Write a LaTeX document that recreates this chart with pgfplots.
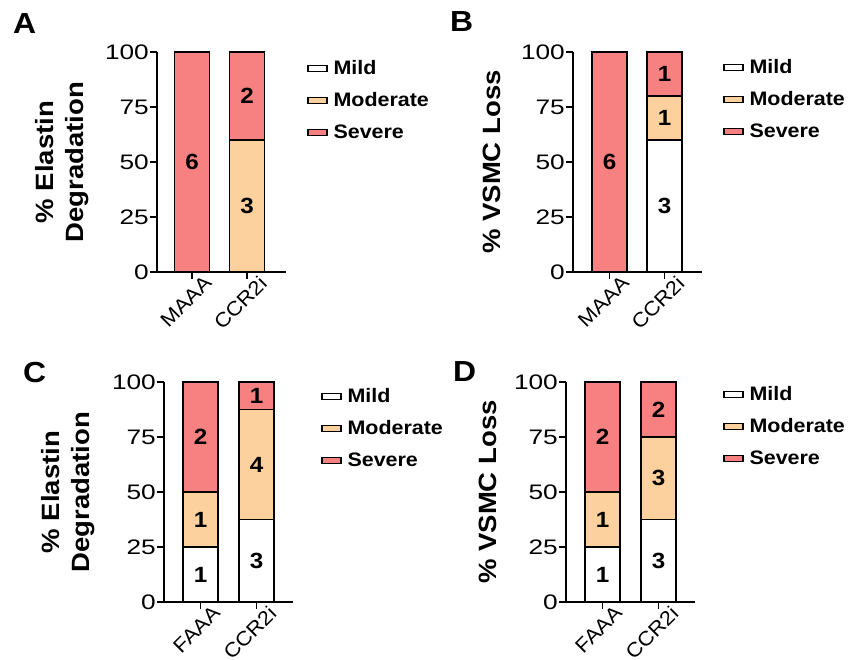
\documentclass[border=0pt]{standalone}
\usepackage{fontspec}
\setmainfont{Liberation Sans}[FakeStretch=1.1]
\newfontfamily\tickfont{Liberation Sans}[FakeStretch=1.25]
\usepackage{pgfplots}
\pgfplotsset{compat=1.18}
\definecolor{severe}{RGB}{247,128,128}
\definecolor{moderate}{RGB}{253,209,158}

\pgfplotsset{
  panel/.style={
    scale only axis, width=129pt, height=220pt,
    ybar stacked, bar width=35pt,
    ymin=0, ymax=100, ytick={0,25,50,75,100},
    xtick={0,1},
    axis lines=left, axis line style={-, line width=1.6pt},
    tick align=outside, major tick length=7pt,
    tick style={line width=1.6pt, black},
    /pgf/number format/assume math mode=true,
    yticklabel style={font=\tickfont\fontsize{21}{24}\selectfont, inner sep=1pt},
    xticklabel style={font=\fontsize{20}{24}\selectfont, xshift=11pt, yshift=6pt, rotate=45, anchor=north east, inner sep=1pt},
    ylabel style={font=\bfseries\fontsize{25}{30}\selectfont, align=center, anchor=center},
    legend style={draw=none, fill=none, anchor=north west,
      font=\bfseries\fontsize{19.5}{22}\selectfont,
      nodes={inner sep=1pt, text height=14pt, text depth=2pt}, row sep=14pt, column sep=5pt},
    legend cell align=left,
    legend image code/.code={\draw[#1, line width=1.3pt] (0pt,-3pt) rectangle (19pt,3pt);},
  },
  lab/.style={
    scale only axis, width=129pt, height=220pt,
    ymin=0, ymax=100, hide axis,
    nodes near coords, point meta=explicit symbolic,
    nodes near coords style={font=\bfseries\fontsize{22}{24}\selectfont, text=black, anchor=center},
  },
  mild/.style={fill=white, draw=black, line width=1.6pt},
  moder/.style={fill=moderate, draw=black, line width=1.6pt},
  sev/.style={fill=severe, draw=black, line width=1.6pt},
  counts/.style={draw=none, mark=none},
}

\begin{document}
\begin{tikzpicture}
\path[use as bounding box] (0pt,0pt) rectangle (854pt,660pt);

% A
\begin{axis}[panel, at={(157pt,388pt)}, xmin=-0.636, xmax=1.709,
  xticklabels={MAAA,CCR2i}, ylabel={\% Elastin\\Degradation},
  ylabel style={at={(axis description cs:-0.736,0.5)}},
  legend style={at={(1.14,0.977)}}]
\addplot[mild] coordinates {(0,0) (1,0)};
\addplot[moder] coordinates {(0,0) (1,60)};
\addplot[sev] coordinates {(0,100) (1,40)};
\legend{Mild,Moderate,Severe}
\end{axis}
\begin{axis}[lab, at={(157pt,388pt)}, xmin=-0.636, xmax=1.709]
\addplot[counts] coordinates {(0,50) [6] (1,30) [3] (1,80) [2]};
\end{axis}

% B
\begin{axis}[panel, at={(573pt,388pt)}, xmin=-0.664, xmax=1.681,
  xticklabels={MAAA,CCR2i}, ylabel={\% VSMC Loss},
  ylabel style={at={(axis description cs:-0.628,0.5)}},
  legend style={at={(1.14,0.982)}}]
\addplot[mild] coordinates {(0,0) (1,60)};
\addplot[moder] coordinates {(0,0) (1,20)};
\addplot[sev] coordinates {(0,100) (1,20)};
\legend{Mild,Moderate,Severe}
\end{axis}
\begin{axis}[lab, at={(573pt,388pt)}, xmin=-0.664, xmax=1.681]
\addplot[counts] coordinates {(0,50) [6] (1,30) [3] (1,70) [1] (1,90) [1]};
\end{axis}

% C
\begin{axis}[panel, at={(164pt,58pt)}, xmin=-0.652, xmax=1.652,
  xticklabels={FAAA,CCR2i}, ylabel={\% Elastin\\Degradation},
  ylabel style={at={(axis description cs:-0.744,0.5)}},
  legend style={at={(1.194,0.986)}}]
\addplot[mild] coordinates {(0,25) (1,37.5)};
\addplot[moder] coordinates {(0,25) (1,50)};
\addplot[sev] coordinates {(0,50) (1,12.5)};
\legend{Mild,Moderate,Severe}
\end{axis}
\begin{axis}[lab, at={(164pt,58pt)}, xmin=-0.652, xmax=1.652]
\addplot[counts] coordinates {(0,12.5) [1] (0,37.5) [1] (0,75) [2] (1,18.75) [3] (1,62.5) [4] (1,93.75) [1]};
\end{axis}

% D
\begin{axis}[panel, at={(566pt,58pt)}, xmin=-0.652, xmax=1.652,
  xticklabels={FAAA,CCR2i}, ylabel={\% VSMC Loss},
  ylabel style={at={(axis description cs:-0.605,0.5)}},
  legend style={at={(1.194,0.995)}}]
\addplot[mild] coordinates {(0,25) (1,37.5)};
\addplot[moder] coordinates {(0,25) (1,37.5)};
\addplot[sev] coordinates {(0,50) (1,25)};
\legend{Mild,Moderate,Severe}
\end{axis}
\begin{axis}[lab, at={(566pt,58pt)}, xmin=-0.652, xmax=1.652]
\addplot[counts] coordinates {(0,12.5) [1] (0,37.5) [1] (0,75) [2] (1,18.75) [3] (1,56.25) [3] (1,87.5) [2]};
\end{axis}

\node[anchor=base west, inner sep=0pt, font=\bfseries\fontsize{29}{32}\selectfont] at (13pt,626pt) {A};
\node[anchor=base west, inner sep=0pt, font=\bfseries\fontsize{29}{32}\selectfont] at (450pt,628pt) {B};
\node[anchor=base west, inner sep=0pt, font=\bfseries\fontsize{29}{32}\selectfont] at (23pt,277pt) {C};
\node[anchor=base west, inner sep=0pt, font=\bfseries\fontsize{29}{32}\selectfont] at (453pt,278pt) {D};
\end{tikzpicture}
\end{document}
